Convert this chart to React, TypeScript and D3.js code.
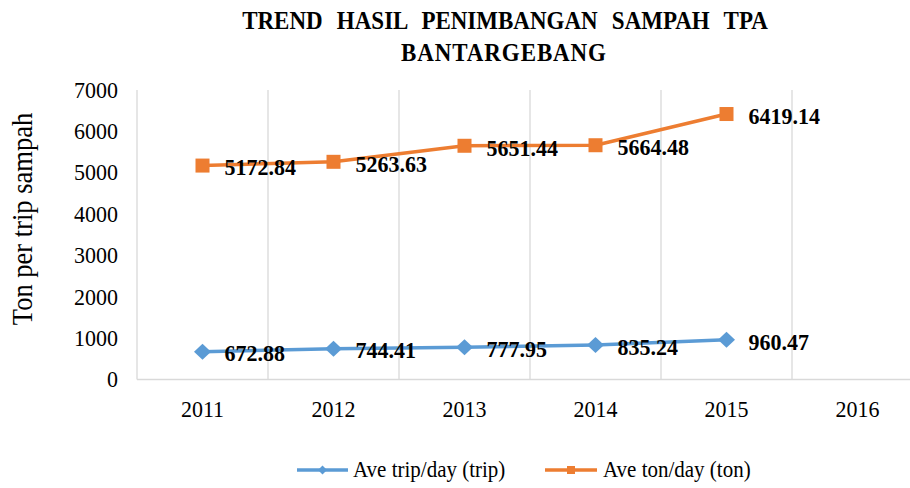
import React from "react";
import * as d3 from "d3";

const years = ["2011", "2012", "2013", "2014", "2015", "2016"];
const tripValues = [672.88, 744.41, 777.95, 835.24, 960.47];
const tonValues = [5172.84, 5263.63, 5651.44, 5664.48, 6419.14];
const yTicks = [0, 1000, 2000, 3000, 4000, 5000, 6000, 7000];
const titleLines = ["TREND HASIL PENIMBANGAN SAMPAH TPA", "BANTARGEBANG"];
const yAxisTitle = "Ton per trip sampah";
const seriesNames = ["Ave trip/day (trip)", "Ave ton/day (ton)"];

const W = 910;
const H = 488;
const FONT = "'Liberation Serif', 'Times New Roman', serif";
const BLUE = "#5B9BD5";
const ORANGE = "#ED7D31";
const GRID = "#D9D9D9";
const STRETCH = 1.08;

type TProps = {
  x: number;
  y: number;
  size: number;
  bold?: boolean;
  anchor?: "start" | "middle" | "end";
  rotate?: number;
  children: React.ReactNode;
  extra?: Record<string, unknown>;
};

function T({ x, y, size, bold, anchor = "start", rotate = 0, children, extra }: TProps) {
  return (
    <text
      transform={`translate(${x},${y}) rotate(${rotate}) scale(1,${STRETCH})`}
      textAnchor={anchor}
      dominantBaseline="central"
      fontFamily={FONT}
      fontWeight={bold ? 700 : 400}
      fontSize={size}
      fill="#000"
      {...(extra || {})}
    >
      {children}
    </text>
  );
}

export default function App() {
  const x = d3.scaleBand<string>().domain(years).range([137, 923]).padding(0);
  const y = d3.scaleLinear().domain([0, 7000]).range([379.5, 90]);
  const cx = (i: number) => (x(years[i]) as number) + x.bandwidth() / 2;

  const line = d3
    .line<number>()
    .x((_, i) => cx(i))
    .y((d) => y(d));

  const diamond = (px: number, py: number, hw: number, hh: number) =>
    `M${px},${py - hh}L${px + hw},${py}L${px},${py + hh}L${px - hw},${py}Z`;

  return (
    <svg
      width={W}
      height={H}
      style={{ position: "absolute", left: 0, top: 0, background: "#fff" }}
    >
      <rect x={0} y={0} width={W} height={H} fill="#fff" />
      {/* title */}
      <T x={505} y={21} size={23} bold anchor="middle" extra={{ wordSpacing: 8.5 }}>
        {titleLines[0]}
      </T>
      <T x={504} y={53} size={23} bold anchor="middle" extra={{ letterSpacing: 0.9 }}>
        {titleLines[1]}
      </T>

      {/* gridlines at band boundaries */}
      {years.map((yr) => (
        <line
          key={"g" + yr}
          x1={x(yr) as number}
          x2={x(yr) as number}
          y1={y(7000)}
          y2={y(0)}
          stroke={GRID}
          strokeWidth={1.3}
        />
      ))}
      {/* baseline */}
      <line x1={137} x2={W} y1={y(0)} y2={y(0)} stroke={GRID} strokeWidth={1.3} />

      {/* y tick labels */}
      {yTicks.map((t) => (
        <T key={"yt" + t} x={118} y={y(t)} size={22} anchor="end">
          {t}
        </T>
      ))}

      {/* x tick labels */}
      {years.map((yr, i) => (
        <T key={"xt" + yr} x={cx(i)} y={409} size={22} anchor="middle">
          {yr}
        </T>
      ))}

      {/* y axis title */}
      <T x={22} y={219} size={26.5} anchor="middle" rotate={-90}>
        {yAxisTitle}
      </T>

      {/* series lines */}
      <path d={line(tripValues) || ""} fill="none" stroke={BLUE} strokeWidth={3.5} strokeLinejoin="round" />
      <path d={line(tonValues) || ""} fill="none" stroke={ORANGE} strokeWidth={3.5} strokeLinejoin="round" />

      {/* markers */}
      {tripValues.map((v, i) => (
        <path key={"dm" + i} d={diamond(cx(i), y(v), 8.5, 8)} fill={BLUE} />
      ))}
      {tonValues.map((v, i) => (
        <rect key={"sq" + i} x={cx(i) - 7} y={y(v) - 7} width={14} height={14} fill={ORANGE} />
      ))}

      {/* data labels */}
      {tripValues.map((v, i) => (
        <T key={"lt" + i} x={cx(i) + 22} y={y(v) + 2} size={22} bold>
          {v.toFixed(2)}
        </T>
      ))}
      {tonValues.map((v, i) => (
        <T key={"lo" + i} x={cx(i) + 22} y={y(v) + 2} size={22} bold>
          {v.toFixed(2)}
        </T>
      ))}

      {/* legend */}
      <line x1={297} x2={348} y1={470} y2={470} stroke={BLUE} strokeWidth={3.5} />
      <path d={diamond(322.5, 470, 4.5, 4.5)} fill={BLUE} />
      <T x={353} y={470} size={21}>
        {seriesNames[0]}
      </T>
      <line x1={545} x2={597} y1={470} y2={470} stroke={ORANGE} strokeWidth={3.5} />
      <rect x={567} y={466} width={8} height={8} fill={ORANGE} />
      <T x={603} y={470} size={21}>
        {seriesNames[1]}
      </T>
    </svg>
  );
}
